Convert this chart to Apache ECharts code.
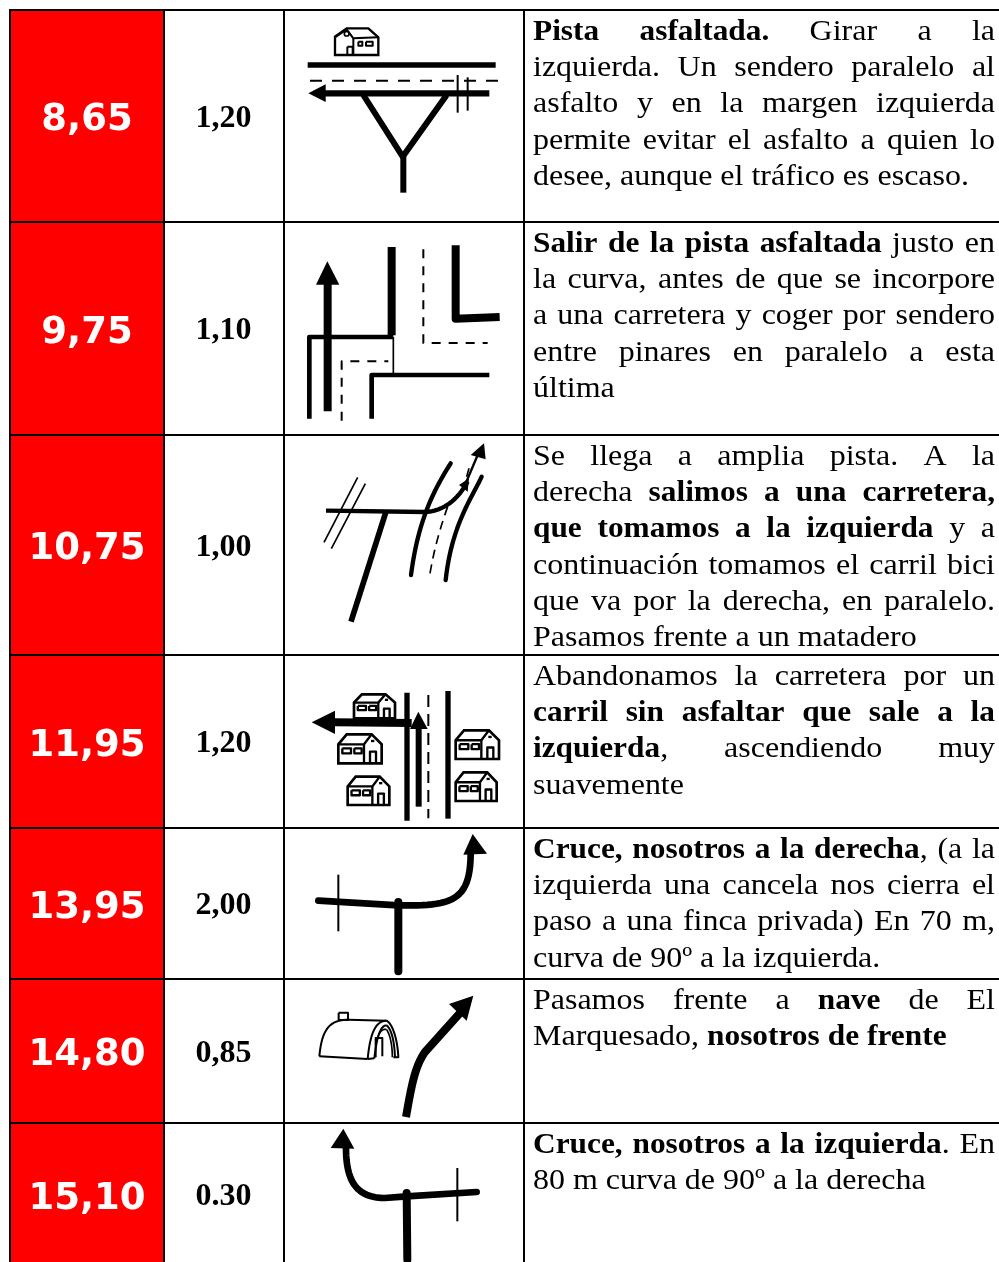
<!DOCTYPE html>
<html><head><meta charset="utf-8">
<style>html,body{margin:0;padding:0;background:#fff}#c{width:999px;height:1262px}</style>
<script src="https://cdn.jsdelivr.net/npm/echarts@6/dist/echarts.min.js"></script>
</head><body><div id="c"></div>
<script>
const kmValues = ['8,65','9,75','10,75','11,95','13,95','14,80','15,10'];
const partialValues = ['1,20','1,10','1,00','1,20','2,00','0,85','0.30'];
const rowDescriptions = [
 ['**Pista asfaltada.** Girar a la','izquierda. Un sendero paralelo al','asfalto y en la margen izquierda','permite evitar el asfalto a quien lo','desee, aunque el tráfico es escaso.'],
 ['**Salir de la pista asfaltada** justo en','la curva, antes de que se incorpore','a una carretera y coger por sendero','entre pinares en paralelo a esta','última'],
 ['Se llega a amplia pista. A la','derecha **salimos a una carretera,**','**que tomamos a la izquierda** y a','continuación tomamos el carril bici','que va por la derecha, en paralelo.','Pasamos frente a un matadero'],
 ['Abandonamos la carretera por un','**carril sin asfaltar que sale a la**','**izquierda**, ascendiendo muy','suavemente'],
 ['**Cruce, nosotros a la derecha**, (a la','izquierda una cancela nos cierra el','paso a una finca privada) En 70 m,','curva de 90º a la izquierda.'],
 ['Pasamos frente a **nave** de El','Marquesado, **nosotros de frente**'],
 ['**Cruce, nosotros a la izquierda**. En','80 m curva de 90º a la derecha']
];
// lines that are not stretched to the full column, per row (index of last justified + 1)
const justifiedLineCounts = [4,4,5,3,3,1,1];

// layout
const colEdges = [10,164,284,524,1003];
const rowEdges = [10,222,435,655,828,979,1123,1270];
const labelCentres = [120.5,333.5,549.5,746.5,908.5,1055.5,1199.5];
const partialCentres = [119,331,548,744,906,1054,1197];
const firstBaselines = [42,254,467,687,860,1011,1155];
const iconOrigins = [0,222,435,655,828,978,978];

// icon helpers: units are 1/3 px, local to the icon cell
const C=(a,b,c,d)=>{const o=[];for(let i=0;i<=24;i++){const t=i/24,u=1-t;
 o.push([u*u*u*a[0]+3*u*u*t*b[0]+3*u*t*t*c[0]+t*t*t*d[0],u*u*u*a[1]+3*u*u*t*b[1]+3*u*t*t*c[1]+t*t*t*d[1]]);}return o;};
const L=(p,w,o)=>Object.assign({p,w},o||{});
const HEAD=p=>({p,fill:true});
const box=(x,y,w,h,lw)=>L([[x,y],[x+w,y],[x+w,y+h],[x,y+h],[x,y]],lw);
function house(x,y,w,h){const s=w/130,t=h/87,P=(a,b)=>[x+a*s,y+b*t];
 return [
  {p:[P(0,87),P(0,30),P(25,0),P(100,0),P(130,30),P(130,87)],closed:true,w:8},
  L([P(0,30),P(77,30),P(100,0)],7),L([P(77,30),P(77,87)],7),
  box(x+12*s,y+42*t,26*s,15*t,7),box(x+48*s,y+42*t,22*s,15*t,7),
  L([P(95,87),P(95,52),P(113,52),P(113,87)],7),
  L([P(98,20),P(108,20)],7)
 ];}
const iconRows=[
 [ {p:[[150,165],[150,110],[185,85],[250,85],[280,112],[280,165]],closed:true,w:7},
   L([[150,112],[185,88],[205,115],[280,112]],6),L([[205,115],[205,165]],6),
   box(187,140,16,25,6),box(220,125,12,12,6),box(243,125,20,12,6),
   {circle:[185,101,7],w:5},
   L([[68,195],[632,195]],16),L([[75,242],[640,242]],6,{dash:[12,10]}),
   L([[115,280],[613,280]],19),HEAD([[70,280],[122,253],[122,306]]),
   L([[235,285],[353,470],[485,285]],18),L([[355,470],[355,578]],18),
   L([[518,225],[518,338]],6),L([[548,232],[548,332]],6) ],
 [ L([[320,75],[320,340]],24),L([[73,590],[73,345],[325,345]],14),L([[325,345],[325,455]],5),
   L([[260,590],[260,459],[613,459]],14),L([[128,568],[128,185]],24),HEAD([[127,118],[93,188],[163,188]]),
   L([[170,596],[170,418],[310,418]],6,{dash:[9,8]}),L([[415,82],[415,363],[608,363]],6,{dash:[9,8]}),
   L([[512,70],[512,290],[644,285]],24) ],
 [ L([[123,227],[420,231]].concat(C([420,231],[480,228],[520,190],[548,140])),13),
   L([[540,150],[578,60]],7),HEAD([[597,25],[557,60],[602,73]]),HEAD([[552,130],[522,150],[548,170]]),
   L([[303,230],[198,560]],17),L([[218,127],[117,322]],5),L([[241,146],[139,341]],5),
   L(C([497,85],[450,160],[400,250],[378,420]),13,{round:true}),L(C([590,125],[560,190],[500,270],[482,435]),13,{round:true}),
   L(C([488,215],[465,280],[445,350],[433,428]),5,{dash:[9,6]}),L([[552,100],[545,125]],5) ],
 [ ...house(207,118,123,72),...house(160,238,130,87),...house(188,365,125,85),...house(512,226,130,86),...house(512,352,123,86),
   L([[366,113],[366,497]],16),L([[489,108],[489,491]],16),L([[401,455],[401,215]],18),HEAD([[400,170],[375,222],[428,222]]),
   L([[430,120],[430,490]],6,{dash:[12,7]}),L([[148,202],[380,204]],24),HEAD([[80,202],[150,167],[150,237]]) ],
 [ L([[100,218],[340,232]].concat(C([340,232],[500,235],[555,220],[557,80])),20,{round:true}),
   L([[340,222],[340,430]],24,{round:true}),L([[160,140],[160,310]],6),HEAD([[563,18],[535,80],[606,77]]) ],
 [ L(C([363,417],[380,320],[390,265],[420,222]).concat([[525,105]]),24),HEAD([[565,53],[492,78],[545,128]]),
   L(C([103,235],[110,160],[130,125],[190,125]).concat([[305,128]]),6),L([[103,235],[248,243]],6),
   L(C([248,243],[255,170],[270,128],[305,128]),6),L(C([305,128],[325,140],[338,190],[340,238]).concat([[325,238]]),6),
   L([[248,243],[268,241]],6),L(C([268,241],[275,180],[285,142],[305,142]),6),L(C([305,142],[320,155],[328,190],[330,238]),6),
   L(C([272,200],[280,165],[290,150],[305,155]),5),L(C([305,155],[315,170],[322,200],[322,238]),5),
   L([[272,238],[272,180],[292,180],[292,235]],6),box(161,104,28,22,6) ],
 [ L([[575,642],[365,655],[300,660]].concat(C([300,660],[215,660],[183,610],[183,510])),20,{round:true}),
   L([[365,645],[367,845]],24,{round:true}),L([[517,570],[517,730]],6),HEAD([[175,452],[137,510],[208,512]]) ]
];
const strokes=[];iconRows.forEach((r,i)=>r.forEach(s=>strokes.push({row:i,s})));

// text measuring
const TEXT_SIZE=30, TEXT_STRETCH=1.066, BOLD_STRETCH=1.045, SERIF='"Liberation Serif"';
const TEXT_LEFT=533, TEXT_RIGHT=995, LINE_STEP=36.3;
const mc=document.createElement('canvas').getContext('2d');
const fontOf=b=>(b?'bold ':'')+TEXT_SIZE+'px '+SERIF;
const widthOf=(t,b)=>{mc.font=fontOf(b);return mc.measureText(t).width*(b?BOLD_STRETCH:TEXT_STRETCH);};
function parseLine(str){let bold=false;const words=[[]];let cur='';const flush=()=>{if(cur){words[words.length-1].push({t:cur,b:bold});cur='';}};
 for(let i=0;i<str.length;i++){if(str.startsWith('**',i)){flush();bold=!bold;i++;}
  else if(str[i]===' '){flush();if(words[words.length-1].length)words.push([]);}else cur+=str[i];}
 flush();return words;}
function layoutLine(str,just){const words=parseLine(str);const ws=words.map(w=>w.reduce((a,f)=>a+widthOf(f.t,f.b),0));
 const sum=ws.reduce((a,b)=>a+b,0);const gap=just&&words.length>1?(TEXT_RIGHT-TEXT_LEFT-sum)/(words.length-1):widthOf(' ',false);
 const out=[];let x=TEXT_LEFT;words.forEach((w,i)=>{let fx=x;w.forEach(f=>{out.push({t:f.t,b:f.b,x:fx});fx+=widthOf(f.t,f.b);});x+=ws[i]+gap;});return out;}
const textFragments=[];
rowDescriptions.forEach((lines,r)=>lines.forEach((l,i)=>{layoutLine(l,i<justifiedLineCounts[r]).forEach(f=>textFragments.push([f.x,firstBaselines[r]+i*LINE_STEP,f.t,f.b?1:0]));}));

const chart=echarts.init(document.getElementById('c'),null,{renderer:'canvas'});
const cells=[];rowEdges.slice(0,-1).forEach((_,r)=>colEdges.slice(0,-1).forEach((_,c)=>cells.push([c,r])));
chart.setOption({
 animation:false,backgroundColor:'#fff',
 grid:{left:0,right:0,top:0,bottom:0},
 xAxis:{type:'value',min:0,max:999,show:false},
 yAxis:{type:'value',min:0,max:1262,inverse:true,show:false},
 series:[
  {type:'custom',clip:false,silent:true,data:cells,encode:{x:0,y:1},renderItem(p,api){
    const c=api.value(0),r=api.value(1);
    const a=api.coord([colEdges[c],rowEdges[r]]),b=api.coord([colEdges[c+1],rowEdges[r+1]]);
    return {type:'rect',shape:{x:a[0],y:a[1],width:b[0]-a[0],height:b[1]-a[1]},style:{fill:c===0?'#ff0000':'#ffffff',stroke:'#000',lineWidth:2}};
  }},
  {type:'custom',clip:false,silent:true,data:kmValues.map((v,i)=>[87,labelCentres[i],v]),encode:{x:0,y:1},renderItem(p,api){
    const a=api.coord([api.value(0),api.value(1)]);
    return {type:'text',style:{text:kmValues[p.dataIndex],x:a[0],y:a[1],align:'center',verticalAlign:'middle',fill:'#fff',font:'bold 37px "DejaVu Sans"'}};
  }},
  {type:'custom',clip:false,silent:true,data:partialValues.map((v,i)=>[223.5,partialCentres[i],v]),encode:{x:0,y:1},renderItem(p,api){
    const a=api.coord([api.value(0),api.value(1)]);
    return {type:'text',style:{text:partialValues[p.dataIndex],x:a[0],y:a[1],align:'center',verticalAlign:'middle',fill:'#000',font:'bold 32px "Liberation Serif"'}};
  }},
  {type:'custom',clip:false,silent:true,data:textFragments.map(f=>[f[0],f[1]]),encode:{x:0,y:1},renderItem(p,api){
    const f=textFragments[p.dataIndex];
    const a=api.coord([f[0],f[1]-0.3375*TEXT_SIZE]);
    return {type:'text',x:a[0],y:a[1],scaleX:f[3]?BOLD_STRETCH:TEXT_STRETCH,style:{text:f[2],x:0,y:0,align:'left',verticalAlign:'middle',fill:'#000',font:fontOf(f[3])}};
  }},
  {type:'custom',clip:false,silent:true,data:strokes.map((_,i)=>[0,i]),encode:{x:0},renderItem(p,api){
    const {row,s}=strokes[p.dataIndex];
    const map=q=>api.coord([285+q[0]/3,iconOrigins[row]+q[1]/3]);
    if(s.circle){const c=map(s.circle);return {type:'circle',shape:{cx:c[0],cy:c[1],r:s.circle[2]/3},style:{fill:'#fff',stroke:'#000',lineWidth:s.w/3}};}
    const pts=s.p.map(map);
    if(s.fill)return {type:'polygon',shape:{points:pts},style:{fill:'#000'}};
    if(s.closed)return {type:'polygon',shape:{points:pts},style:{fill:'#fff',stroke:'#000',lineWidth:s.w/3,lineJoin:'miter'}};
    return {type:'polyline',shape:{points:pts},style:{fill:null,stroke:'#000',lineWidth:s.w/3,lineCap:s.round?'round':'butt',lineJoin:'round',lineDash:s.dash?s.dash.map(d=>d):null}};
  }}
 ]
});
</script></body></html>
